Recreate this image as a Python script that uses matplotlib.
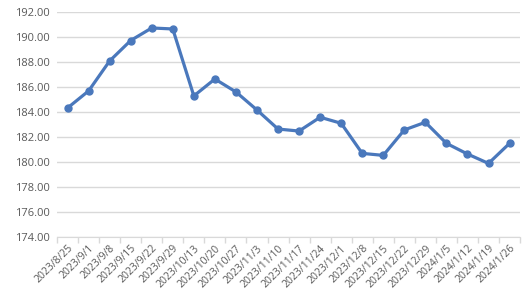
import matplotlib
matplotlib.use("Agg")
import matplotlib.pyplot as plt
import numpy as np

dates = ["2023/8/25", "2023/9/1", "2023/9/8", "2023/9/15", "2023/9/22", "2023/9/29",
         "2023/10/13", "2023/10/20", "2023/10/27", "2023/11/3", "2023/11/10", "2023/11/17",
         "2023/11/24", "2023/12/1", "2023/12/8", "2023/12/15", "2023/12/22", "2023/12/29",
         "2024/1/5", "2024/1/12", "2024/1/19", "2024/1/26"]
values = [184.32, 185.68, 188.07, 189.70, 190.70, 190.62, 185.28, 186.63, 185.60, 184.16,
          182.64, 182.48, 183.58, 183.10, 180.70, 180.54, 182.57, 183.18, 181.50, 180.65,
          179.90, 181.50]
yticks = [174, 176, 178, 180, 182, 184, 186, 188, 190, 192]

plt.rcParams['font.family'] = ['Open Sans', 'DejaVu Sans']

fig = plt.figure(figsize=(5.28, 2.99), dpi=100)
ax = fig.add_axes([0.108, 0.206, 0.877, 0.755])

x = np.arange(len(dates))
ax.plot(x, values, color="#4A78BC", lw=2.3, marker="o", ms=5, zorder=3)

ax.set_xlim(-0.5, len(dates) - 0.5)
ax.set_ylim(174, 192)
ax.set_yticks(yticks)
ax.set_yticklabels([f"{v:.2f}" for v in yticks], fontsize=8, color="#595959")
ax.tick_params(axis="y", length=0, pad=5)
ax.grid(axis="y", color="#D9D9D9", lw=1)
ax.set_axisbelow(True)

ax.set_xticks(x)
ax.set_xticklabels(dates, rotation=45, ha="right", rotation_mode="anchor",
                   fontsize=7.5, color="#595959")
ax.tick_params(axis="x", which="major", length=0, pad=4)
ax.set_xticks(np.arange(-0.5, len(dates)), minor=True)
ax.tick_params(axis="x", which="minor", length=4, color="#D9D9D9", width=1)

for s in ["left", "right", "top"]:
    ax.spines[s].set_visible(False)
ax.spines["bottom"].set_color("#D9D9D9")

fig.savefig("out.png", dpi=100)
